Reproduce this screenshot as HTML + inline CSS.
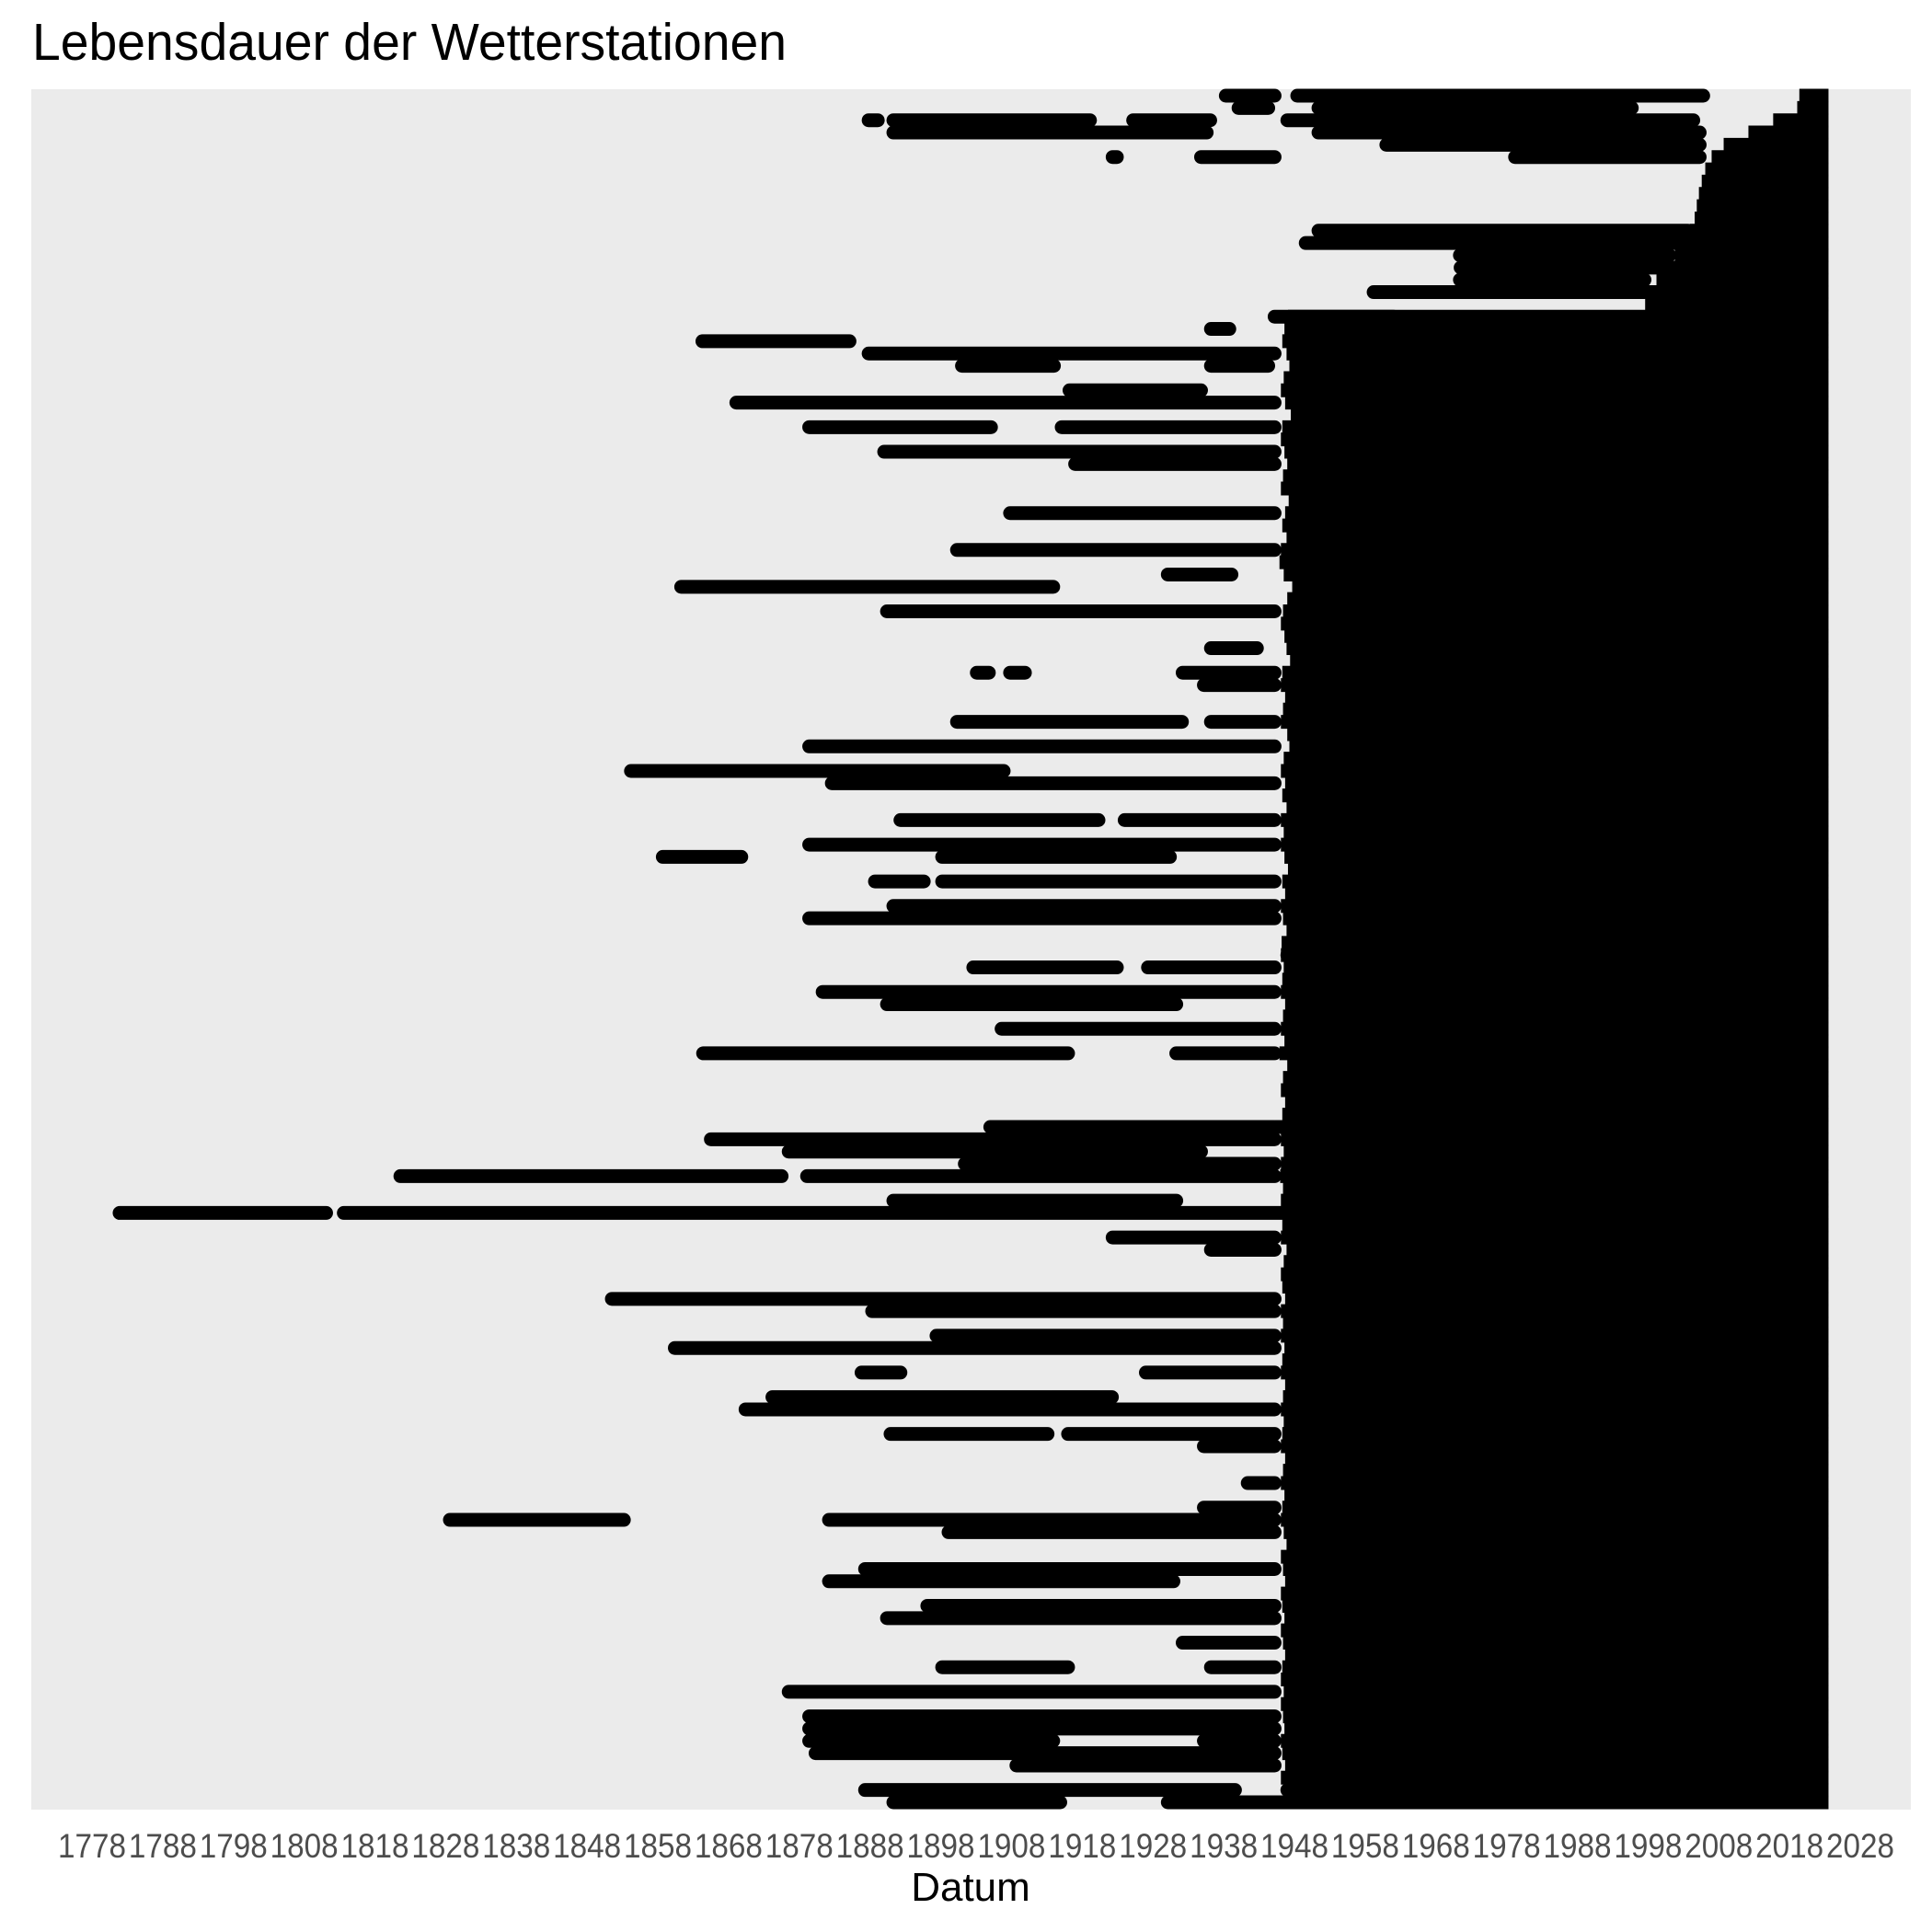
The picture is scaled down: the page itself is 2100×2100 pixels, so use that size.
<!DOCTYPE html>
<html><head><meta charset="utf-8"><style>
html,body{margin:0;padding:0;background:#fff;}
svg{display:block;}
text{font-family:"Liberation Sans",Arial,sans-serif;}
</style></head><body>
<svg id="chart" width="2100" height="2100" viewBox="0 0 2100 2100" xmlns="http://www.w3.org/2000/svg">
<rect x="0" y="0" width="2100" height="2100" fill="#ffffff"/>
<text x="35" y="65" font-size="57" fill="#000" textLength="820" lengthAdjust="spacingAndGlyphs">Lebensdauer der Wetterstationen</text>
<rect x="34" y="97" width="2043" height="1870" fill="#EBEBEB"/>
<g id="marks"></g>
<g id="xaxis"></g>
<text x="1055" y="2066" font-size="44" fill="#000" text-anchor="middle">Datum</text>
</svg>
<script>
// ---- data ----
const tickYears = [1778,1788,1798,1808,1818,1828,1838,1848,1858,1868,1878,1888,1898,1908,1918,1928,1938,1948,1958,1968,1978,1988,1998,2008,2018,2028];
const rowCount = 140;
// start year of the continuous recent-station block for each row (rows 0..139)
const blockStart = [
2020.3,2020.0,2016.6,2013.1,2009.6,2007.9,2007.0,2006.5,2006.1,2005.8,
2005.5,2004.8,2004.1,2002.7,2001.3,2000.1,1998.8,1998.5,1948.0,1947.5,
1947.2,1947.8,1948.2,1947.4,1947.0,1947.6,1948.4,1947.2,1947.0,1947.5,
1947.9,1947.3,1947.0,1948.1,1947.6,1947.2,1947.8,1947.0,1946.8,1947.4,
1948.6,1947.9,1947.3,1947.0,1947.5,1947.8,1948.3,1947.2,1947.0,1947.6,
1947.3,1947.0,1947.9,1948.2,1947.4,1947.0,1947.6,1947.2,1947.8,1947.0,
1947.4,1947.0,1947.5,1948.0,1947.2,1947.6,1947.0,1947.3,1947.8,1947.1,
1947.0,1947.4,1947.2,1947.0,1947.6,1947.3,1947.0,1947.5,1946.8,1947.9,
1947.3,1947.0,1947.6,1947.2,1946.2,1947.0,1947.4,1947.0,1946.9,1947.3,
1947.0,1947.5,1947.2,1947.0,1947.8,1947.4,1947.0,1947.2,1947.6,1947.0,
1947.3,1947.0,1947.5,1947.2,1947.0,1947.6,1947.3,1947.0,1947.4,1947.2,
1947.0,1947.6,1947.3,1947.0,1947.5,1947.2,1947.0,1947.4,1947.8,1947.0,
1947.3,1947.6,1947.0,1947.2,1947.5,1947.0,1947.3,1947.6,1947.2,1947.0,
1947.4,1947.0,1947.3,1947.5,1947.0,1947.2,1947.6,1947.0,1958.0,1958.0
];
const blockEnd = 2022.6;
// individual older station segments
const segRow = [0,0,1,1,2,2,2,2,3,3,4,5,5,5,11,12,13,14,14,15,16,18,19,20,21,22,22,24,25,27,27,29,30,34,37,39,40,42,45,47,47,47,48,51,51,53,55,56,59,59,61,62,62,64,64,66,67,70,71,71,73,74,76,78,78,84,85,86,87,88,88,90,91,91,93,94,98,99,101,102,104,104,106,107,109,109,110,113,115,116,116,117,120,121,123,124,126,128,128,130,132,133,134,134,135,136,138,138,139,139];
const segStart = [1938.3,1948.4,1940.1,1951.4,1887.8,1891.3,1925.2,1947.0,1891.3,1951.4,1961.0,1922.3,1934.8,1979.2,1951.4,1949.6,1971.4,1971.5,1987.0,1971.4,1959.2,1945.2,1936.2,1864.3,1887.8,1901.0,1936.2,1916.2,1869.1,1879.4,1915.1,1890.0,1917.0,1907.8,1900.3,1930.1,1861.3,1890.4,1936.2,1903.1,1907.8,1932.2,1935.2,1900.3,1936.2,1879.4,1854.2,1882.6,1892.3,1924.0,1879.4,1858.7,1898.2,1888.7,1898.2,1891.3,1879.4,1947.0,1902.6,1927.3,1881.3,1890.4,1906.6,1864.4,1931.3,1905.0,1865.5,1876.5,1901.4,1821.6,1879.1,1891.3,1781.9,1813.6,1922.3,1936.2,1851.5,1888.3,1897.4,1860.4,1886.8,1927.0,1874.2,1870.4,1890.9,1916.0,1935.2,1941.4,1935.2,1828.6,1882.2,1899.1,1887.3,1882.2,1896.1,1890.4,1932.2,1898.2,1936.2,1876.5,1879.4,1879.4,1879.4,1935.2,1880.3,1908.7,1887.3,1947.0,1891.3,1930.1];
const segEnd = [1945.2,2005.8,1944.3,1995.7,1889.1,1919.1,1936.1,2004.4,1935.6,2005.3,2005.3,1922.9,1945.2,2005.3,2003.6,2002.7,2001.0,1988.0,2000.0,1997.5,1997.5,1962.0,1938.8,1885.1,1945.2,1914.0,1944.3,1934.8,1945.2,1905.1,1945.2,1945.2,1945.2,1945.2,1945.2,1939.1,1913.9,1945.2,1942.7,1904.8,1909.9,1945.2,1945.2,1932.1,1945.2,1945.2,1906.9,1945.2,1920.3,1945.2,1945.2,1869.8,1930.4,1895.6,1945.2,1945.2,1945.2,1954.4,1922.9,1945.2,1945.2,1931.3,1945.2,1916.0,1945.2,1945.2,1945.2,1934.8,1945.2,1875.5,1945.2,1931.3,1811.1,1948.7,1945.2,1945.2,1945.2,1945.2,1945.2,1945.2,1892.3,1945.2,1922.2,1945.2,1913.1,1945.2,1945.2,1945.2,1945.2,1853.2,1945.2,1945.2,1945.2,1930.9,1945.2,1945.2,1945.2,1916.0,1945.2,1945.2,1945.2,1945.2,1913.9,1945.2,1945.2,1945.2,1939.6,1958.0,1914.9,1958.0];

// ---- scales ----
const NS = "http://www.w3.org/2000/svg";
function xScale(year){ return 100 + (year - 1778) * (1922 / 250); }
function yScale(row){ return 104 + row * (1855 / (rowCount - 1)); }

const marks = document.getElementById('marks');
function seg(y, x1, x2, name, cap, ext){
  const l = document.createElementNS(NS, 'line');
  l.setAttribute('x1', xScale(x1) - ext); l.setAttribute('x2', xScale(x2) + ext);
  l.setAttribute('y1', yScale(y)); l.setAttribute('y2', yScale(y));
  l.setAttribute('stroke', '#000'); l.setAttribute('stroke-width', '15');
  l.setAttribute('stroke-linecap', cap);
  
  
  marks.appendChild(l);
}
for (let i = 0; i < rowCount; i++) {
  seg(i, blockStart[i], blockEnd, 'station-block-row', 'butt', 7);
}
for (let k = 0; k < segRow.length; k++) {
  seg(segRow[k], segStart[k], segEnd[k], 'station-segment', 'round', 0);
}

const xaxis = document.getElementById('xaxis');
tickYears.forEach(function(yr){
  const t = document.createElementNS(NS, 'text');
  t.setAttribute('x', xScale(yr) - 37);
  t.setAttribute('y', 2019);
  t.setAttribute('font-size', '37');
  t.setAttribute('fill', '#4D4D4D');
  t.setAttribute('textLength', '74');
  t.setAttribute('lengthAdjust', 'spacingAndGlyphs');
  
  
  t.textContent = String(yr);
  xaxis.appendChild(t);
});
</script>
</body></html>
